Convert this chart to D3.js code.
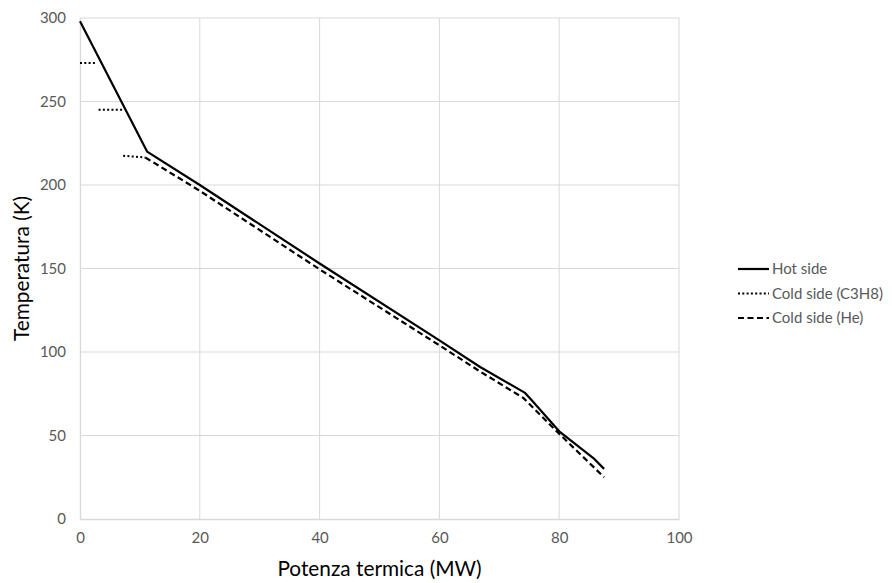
<!DOCTYPE html>
<html><head><meta charset="utf-8">
<script src="https://cdn.jsdelivr.net/npm/d3@7"></script>
<style>body{margin:0;background:#fff}</style>
</head><body>
<svg id="c" width="892" height="583"></svg>
<script>
const hotX  = [0, 11.2, 20, 40, 60, 66.8, 74.3, 75.3, 80, 85.7, 87.5];
const hotT  = [298, 220, 200, 153, 107, 91, 75.5, 71.5, 52.5, 36.5, 30];
const c3h8X = [0, 2.8, null, 3.1, 7.3, null, 7.2, 10.9];
const c3h8T = [273, 273, null, 245, 245, null, 217.5, 216.5];
const heX   = [10.9, 20, 40, 60, 66.8, 74, 80, 87.5];
const heT   = [216.5, 196.5, 149.5, 104, 88.3, 72.5, 51, 25];
const xTicks = [0, 20, 40, 60, 80, 100];
const yTicks = [0, 50, 100, 150, 200, 250, 300];
const seriesNames = ["Hot side", "Cold side (C3H8)", "Cold side (He)"];

const svg = d3.select("#c");
const m = {l: 80, r: 679, t: 18, b: 519};
const x = d3.scaleLinear().domain([0, 100]).range([m.l, m.r]);
const y = d3.scaleLinear().domain([0, 300]).range([m.b, m.t]);
const font = "Lato, 'Open Sans', sans-serif";

// grid
svg.append("g").selectAll("line").data(xTicks.slice(1)).join("line")
  .attr("x1", d => x(d)).attr("x2", d => x(d)).attr("y1", m.t).attr("y2", m.b)
  .attr("stroke", "#d9d9d9").attr("stroke-width", 1);
svg.append("g").selectAll("line").data(yTicks.slice(1)).join("line")
  .attr("x1", m.l).attr("x2", m.r).attr("y1", d => y(d)).attr("y2", d => y(d))
  .attr("stroke", "#d9d9d9").attr("stroke-width", 1);

// axes
const xa = svg.append("g").attr("transform", `translate(0,${m.b})`)
  .call(d3.axisBottom(x).tickValues(xTicks).tickSize(0).tickPadding(13));
xa.select(".domain").attr("stroke", "#d9d9d9").attr("stroke-width", 1.3);
xa.selectAll("text").attr("font-family", font).attr("font-size", 15).attr("fill", "#595959");
const ya = svg.append("g").attr("transform", `translate(${m.l},0)`)
  .call(d3.axisLeft(y).tickValues(yTicks).tickSize(0).tickPadding(14));
ya.select(".domain").attr("stroke", "#d9d9d9").attr("stroke-width", 1.3);
ya.selectAll("text").attr("font-family", font).attr("font-size", 15).attr("fill", "#595959");

svg.append("text").attr("x", x(50)).attr("y", 576).attr("text-anchor", "middle")
  .attr("font-family", font).attr("font-size", 20.8).attr("fill", "#000")
  .text("Potenza termica (MW)");
svg.append("text").attr("transform", `translate(29,${y(150)}) rotate(-90)`)
  .attr("text-anchor", "middle").attr("font-family", font).attr("font-size", 20.8).attr("fill", "#000")
  .text("Temperatura (K)");

const line = d3.line().defined(d => d[0] !== null).x(d => x(d[0])).y(d => y(d[1]));
const zip = (a, b) => a.map((v, i) => [v, b[i]]);

svg.append("path").datum(zip(heX, heT)).attr("d", line).attr("fill", "none")
  .attr("stroke", "#000").attr("stroke-width", 2.2).attr("stroke-dasharray", "6,3.5");
svg.append("path").datum(zip(c3h8X, c3h8T)).attr("d", line).attr("fill", "none")
  .attr("stroke", "#000").attr("stroke-width", 2).attr("stroke-dasharray", "2,2.3");
svg.append("path").datum(zip(hotX, hotT)).attr("d", line).attr("fill", "none")
  .attr("stroke", "#000").attr("stroke-width", 2.2).attr("stroke-linejoin", "round");

// legend
const dashes = [null, "2,2.3", "6,3.5"];
const lg = svg.append("g");
seriesNames.forEach((n, i) => {
  const yy = 269 + i * 24.5;
  lg.append("line").attr("x1", 738).attr("x2", 769).attr("y1", yy).attr("y2", yy)
    .attr("stroke", "#000").attr("stroke-width", 2.2).attr("stroke-dasharray", dashes[i]);
  lg.append("text").attr("x", 772).attr("y", yy + 5).attr("font-family", font)
    .attr("font-size", 15).attr("fill", "#595959").text(n);
});
</script>
</body></html>
